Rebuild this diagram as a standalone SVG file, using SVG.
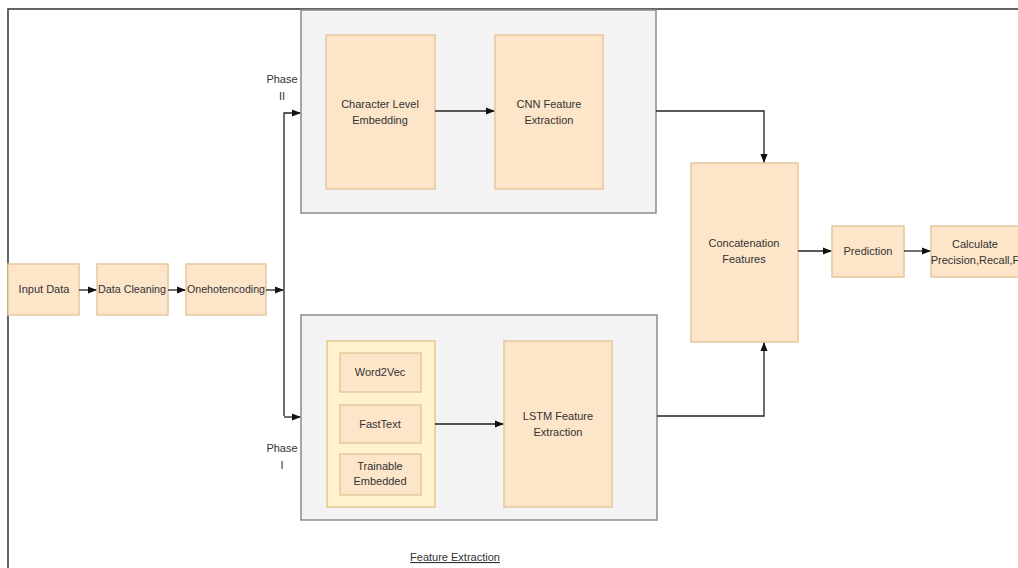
<svg xmlns="http://www.w3.org/2000/svg" width="1018" height="568" viewBox="0 0 1018 568">
<defs>
<style>
.n{fill:#fde5c9;stroke:#e6c79c;stroke-width:1.5}
.y{fill:#fff2cc;stroke:#e3c98a;stroke-width:1.5}
.g{fill:#f3f3f4;stroke:#8a8a8a;stroke-width:1.5}
.t{font-family:"Liberation Sans",Arial,sans-serif;font-size:11px;fill:#333;text-anchor:middle}
.c{fill:none;stroke:#222;stroke-width:1.3}
</style>
<marker id="ah" viewBox="0 0 10 10" refX="9" refY="5" markerWidth="7" markerHeight="7" orient="auto"><path d="M0,1 L10,5 L0,9 z" fill="#111"/></marker>
</defs>
<rect x="0" y="0" width="1018" height="568" fill="#fff"/>
<rect x="8" y="9" width="1030" height="580" fill="none" stroke="#333" stroke-width="1.5"/>

<g id="groupTop"><rect class="g" x="301" y="10" width="355" height="203"/></g>
<g id="groupBottom"><rect class="g" x="301" y="315" width="356" height="205"/></g>

<g id="inputData"><rect class="n" x="8" y="264" width="71" height="51"/><text class="t" x="44" y="293">Input Data</text></g>
<g id="dataCleaning"><rect class="n" x="97" y="264" width="71" height="51"/><text class="t" x="132" y="293" textLength="68" lengthAdjust="spacingAndGlyphs">Data Cleaning</text></g>
<g id="onehot"><rect class="n" x="186" y="264" width="80" height="51"/><text class="t" x="226" y="293" textLength="78" lengthAdjust="spacingAndGlyphs">Onehotencoding</text></g>

<g id="charEmb"><rect class="n" x="326" y="35" width="109" height="154"/><text class="t" x="380" y="108">Character Level</text><text class="t" x="380" y="124">Embedding</text></g>
<g id="cnn"><rect class="n" x="495" y="35" width="108" height="154"/><text class="t" x="549" y="108">CNN Feature</text><text class="t" x="549" y="124">Extraction</text></g>

<g id="embGroup"><rect class="y" x="327" y="341" width="108" height="166"/></g>
<g id="word2vec"><rect class="n" x="340" y="353" width="81" height="39"/><text class="t" x="380" y="376">Word2Vec</text></g>
<g id="fasttext"><rect class="n" x="340" y="405" width="81" height="38"/><text class="t" x="380" y="428">FastText</text></g>
<g id="trainable"><rect class="n" x="340" y="454" width="81" height="41"/><text class="t" x="380" y="470">Trainable</text><text class="t" x="380" y="485">Embedded</text></g>
<g id="lstm"><rect class="n" x="504" y="341" width="108" height="166"/><text class="t" x="558" y="420">LSTM Feature</text><text class="t" x="558" y="436">Extraction</text></g>

<g id="concat"><rect class="n" x="691" y="163" width="107" height="179"/><text class="t" x="744" y="247">Concatenation</text><text class="t" x="744" y="263">Features</text></g>
<g id="prediction"><rect class="n" x="832" y="226" width="72" height="51"/><text class="t" x="868" y="255">Prediction</text></g>
<g id="calculate"><rect class="n" x="931" y="226" width="100" height="51"/><text class="t" x="975" y="248">Calculate</text><text class="t" x="975" y="264">Precision,Recall,F</text></g>

<g id="labels">
<text class="t" x="282" y="83" font-size="10">Phase</text><text class="t" x="282" y="100" font-size="10">II</text>
<text class="t" x="282" y="452" font-size="10">Phase</text><text class="t" x="282" y="469" font-size="10">I</text>
<text class="t" x="455" y="561" font-size="10" text-decoration="underline">Feature Extraction</text>
</g>

<g id="connectors">
<path class="c" d="M79,290 L96,290" marker-end="url(#ah)"/>
<path class="c" d="M168,290 L185,290" marker-end="url(#ah)"/>
<path class="c" d="M266,290 L283,290" marker-end="url(#ah)"/>
<path class="c" d="M284,416 L284,113 L300,113" marker-end="url(#ah)"/>
<path class="c" d="M284,417 L300,417" marker-end="url(#ah)"/>
<path class="c" d="M435,111 L494,111" marker-end="url(#ah)"/>
<path class="c" d="M435,424 L503,424" marker-end="url(#ah)"/>
<path class="c" d="M656,111 L764,111 L764,162" marker-end="url(#ah)"/>
<path class="c" d="M657,416 L764,416 L764,343" marker-end="url(#ah)"/>
<path class="c" d="M798,251 L831,251" marker-end="url(#ah)"/>
<path class="c" d="M904,251 L930,251" marker-end="url(#ah)"/>
</g>
</svg>
